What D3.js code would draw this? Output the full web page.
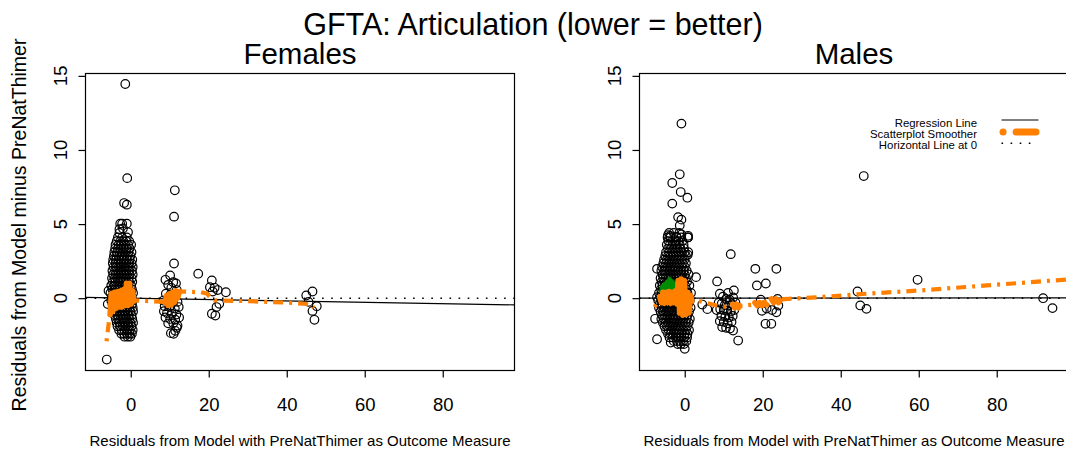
<!DOCTYPE html>
<html>
<head>
<meta charset="utf-8">
<script src="https://cdn.jsdelivr.net/npm/d3@7"></script>
<style>
  html, body { margin: 0; padding: 0; background: #fff; }
  svg { display: block; }
  text { font-family: "Liberation Sans", Arial, Helvetica, sans-serif; fill: #000; }
</style>
</head>
<body>
<svg id="chart" width="1066" height="451"></svg>
<script>
// ---------------- data ----------------
const mainTitle = "GFTA: Articulation (lower = better)";
const panelTitles = ["Females", "Males"];
const xLabel = "Residuals from Model with PreNatThimer as Outcome Measure";
const yLabel = "Residuals from Model minus PreNatThimer";
const xTicks = [0, 20, 40, 60, 80];
const yTicks = [0, 5, 10, 15];
const legendLabels = ["Regression Line", "Scatterplot Smoother", "Horizontal Line at 0"];

// Females: dense main group, one row of x values per y level
const femaleRowY = [4.4, 4.1, 3.85, 3.6, 3.35, 3.1, 2.85, 2.6, 2.35, 2.1, 1.85, 1.6, 1.35, 1.1, 0.85,
  0.6, 0.35, 0.1, -0.15, -0.4, -0.65, -0.9, -1.15, -1.4, -1.65, -1.9, -2.15, -2.4, -2.6];
const femaleRowX = [
  [-2.9],
  [-3.3, -2.2, -1.0],
  [-3.6, -2.7, -1.9, -1.2, -0.4],
  [-3.9, -3.1, -2.4, -1.5, -0.7, 0.1],
  [-4.0, -3.3, -2.6, -1.8, -1.1, -0.3],
  [-4.2, -3.5, -2.8, -2.1, -1.4, -0.6, 0.2],
  [-4.3, -3.7, -3.0, -2.3, -1.6, -0.9, -0.1],
  [-4.5, -3.8, -3.1, -2.4, -1.7, -1.0, -0.3, 0.4],
  [-4.6, -3.9, -3.3, -2.6, -1.9, -1.2, -0.5, 0.2],
  [-4.4, -3.7, -3.0, -2.3, -1.6, -0.9, -0.2, 0.5],
  [-4.7, -4.0, -3.3, -2.6, -1.9, -1.2, -0.5, 0.3],
  [-4.5, -3.8, -3.1, -2.4, -1.7, -1.0, -0.3, 0.5],
  [-4.8, -4.1, -3.4, -2.7, -2.0, -1.3, -0.6, 0.2],
  [-4.6, -3.9, -3.2, -2.5, -1.8, -1.1, -0.4, 0.4],
  [-5.0, -4.2, -3.5, -2.8, -2.1, -1.4, -0.7, 0.1],
  [-4.7, -4.0, -3.3, -2.6, -1.9, -1.2, -0.5, 0.3],
  [-5.2, -4.4, -3.6, -2.9, -2.2, -1.5, -0.8, 0.0, 0.6],
  [-4.8, -4.1, -3.4, -2.7, -2.0, -1.3, -0.6, 0.2],
  [-5.0, -4.3, -3.6, -2.9, -2.2, -1.5, -0.8, -0.1, 0.5],
  [-4.7, -4.0, -3.3, -2.6, -1.9, -1.2, -0.5, 0.3],
  [-4.5, -3.8, -3.1, -2.4, -1.7, -1.0, -0.3, 0.5],
  [-4.3, -3.6, -2.9, -2.2, -1.5, -0.8, -0.1, 0.6],
  [-4.1, -3.4, -2.7, -2.0, -1.3, -0.6, 0.2],
  [-3.8, -3.2, -2.5, -1.8, -1.1, -0.4, 0.4],
  [-3.6, -2.9, -2.2, -1.5, -0.8, -0.1, 0.6],
  [-3.4, -2.7, -2.0, -1.3, -0.6, 0.2],
  [-3.0, -2.3, -1.6, -0.9, -0.2, 0.5],
  [-2.4, -1.7, -1.0, -0.3, 0.3],
  [-1.6, -0.8, -0.1]
];
// Females: remaining points
const femaleOtherX = [-1.4, -0.9, -1.7, -1.0, -2.7, -2.2, -1.0, -2.9, -2.0, -0.7, -6.15, -5.7, -5.9,
  11.3, 11.1, 11.1, 10.1, 8.9, 10.9, 11.6, 9.6, 10.4, 11.8, 9.0, 10.2, 11.2, 8.4, 9.6, 10.8, 12.0, 8.7,
  9.9, 11.3, 12.3, 8.5, 9.3, 10.5, 11.7, 8.9, 10.1, 11.4, 12.4, 9.6, 10.9, 12.0, 11.8, 11.4, 10.3, 11.0,
  17.3, 20.8, 20.3, 21.5, 22.3, 24.4, 21.0, 22.7, 22.0, 20.8, 21.7,
  45.0, 46.6, 47.7, 46.6, 47.1, 45.6];
const femaleOtherY = [14.45, 8.1, 6.42, 6.31, 5.03, 5.03, 5.03, 4.65, 4.7, 4.45, -4.14, 0.5, -0.4,
  7.28, 5.5, 2.34, 1.53, 1.24, 1.08, 1.0, 0.9, 0.7, 0.55, 0.3, 0.25, 0.1, -0.16, -0.2, -0.3, -0.25, -0.55,
  -0.6, -0.7, -0.6, -0.88, -1.0, -1.05, -1.1, -1.3, -1.4, -1.45, -1.3, -1.7, -1.7, -1.85, -2.0, -2.2, -2.36, -2.4,
  1.65, 1.2, 0.74, 0.7, 0.55, 0.4, 0.45, -0.38, -0.6, -1.05, -1.17,
  0.18, 0.45, -0.54, -0.86, -1.46, -0.25];
const femaleFit = [0.0, -0.0046];          // intercept, slope
const femaleSmoothX = [-6.2, -5.6, -5.0, -4.0, -2.0, 0.0, 1.0, 5.0, 8.5, 10.0, 12.0, 13.0, 18.0, 19.6,
  20.5, 21.5, 30, 40, 46, 47];
const femaleSmoothY = [-2.9, -1.6, -0.6, 0.0, 0.1, 0.0, -0.15, -0.2, -0.25, -0.1, 0.3, 0.45, 0.4, 0.3,
  0.0, -0.15, -0.2, -0.3, -0.4, -0.65];
// smoother doubling back on itself where x values are crowded
const femaleCoreX = [
  [-5.3, -5.0, -4.6, -4.2, -3.8, -3.4, -3.0, -2.6, -2.2, -1.8, -1.4, -1.1, -0.7, -0.3, 0.1, 0.5, 0.8],
  [8.8, 9.2, 9.6, 10.0, 10.4, 10.8, 11.2, 11.6, 12.0, 12.5]
];
const femaleCoreY = [
  [-1.1, 0.3, -0.9, 0.4, -0.7, 0.45, -0.6, 0.5, -0.6, 0.6, -0.5, 1.0, -0.5, 1.0, -0.4, 0.5, -0.2],
  [-0.3, 0.2, -0.5, 0.3, -0.45, 0.4, -0.3, 0.5, 0.0, 0.45]
];

// Males: dense main group
const maleRowY = [4.4, 4.1, 3.85, 3.6, 3.35, 3.1, 2.85, 2.6, 2.35, 2.1, 1.85, 1.6, 1.35, 1.1, 0.85, 0.6,
  0.35, 0.1, -0.15, -0.4, -0.65, -0.9, -1.15, -1.4, -1.65, -1.9, -2.15, -2.4, -2.65, -2.9, -3.1];
const maleRowX = [
  [-4.0, -2.8, -1.4],
  [-4.4, -3.7, -2.1, -0.9, 0.8],
  [-4.2, -3.2, -2.4, -1.6, -0.6],
  [-4.6, -3.8, -3.0, -2.2, -1.3, -0.3],
  [-4.3, -3.5, -2.7, -1.9, -1.1, -0.2],
  [-4.8, -4.0, -3.2, -2.4, -1.6, -0.8, 0.0, 0.9],
  [-5.0, -4.3, -3.6, -2.9, -2.1, -1.3, -0.5, 0.3],
  [-5.3, -4.6, -3.9, -3.2, -2.5, -1.7, -0.9, -0.1],
  [-5.5, -4.8, -4.1, -3.4, -2.7, -2.0, -1.3, -0.5, 0.3],
  [-5.8, -5.1, -4.4, -3.7, -3.0, -2.3, -1.6, -0.8, 0.0],
  [-6.0, -5.3, -4.6, -3.9, -3.2, -2.5, -1.8, -1.1, -0.3, 0.5],
  [-5.7, -5.0, -4.3, -3.6, -2.9, -2.2, -1.5, -0.8, 0.0, 1.0],
  [-6.2, -5.5, -4.8, -4.1, -3.4, -2.7, -2.0, -1.3, -0.5, 0.3],
  [-5.9, -5.2, -4.5, -3.8, -3.1, -2.4, -1.7, -1.0, -0.2, 0.6],
  [-6.4, -5.7, -5.0, -4.3, -3.6, -2.9, -2.2, -1.5, -0.7, 0.1, 1.2],
  [-6.1, -5.4, -4.7, -4.0, -3.3, -2.6, -1.9, -1.2, -0.4, 0.4],
  [-6.6, -5.9, -5.2, -4.5, -3.8, -3.1, -2.4, -1.7, -1.0, -0.2, 0.7, 1.6],
  [-6.3, -5.6, -4.9, -4.2, -3.5, -2.8, -2.1, -1.4, -0.6, 0.2, 1.0],
  [-6.8, -6.0, -5.3, -4.6, -3.9, -3.2, -2.5, -1.8, -1.1, -0.3, 0.5, 1.3],
  [-6.4, -5.7, -5.0, -4.3, -3.6, -2.9, -2.2, -1.5, -0.7, 0.1, 0.9],
  [-6.6, -5.9, -5.2, -4.5, -3.8, -3.1, -2.4, -1.7, -1.0, -0.2, 0.6, 1.5],
  [-6.2, -5.5, -4.8, -4.1, -3.4, -2.7, -2.0, -1.3, -0.5, 0.3, 1.1],
  [-5.8, -5.1, -4.4, -3.7, -3.0, -2.3, -1.6, -0.9, -0.1, 0.7],
  [-6.0, -5.3, -4.6, -3.9, -3.2, -2.5, -1.8, -1.1, -0.3, 0.5, 1.3],
  [-5.6, -4.9, -4.2, -3.5, -2.8, -2.1, -1.4, -0.6, 0.2, 1.0],
  [-5.2, -4.5, -3.8, -3.1, -2.4, -1.7, -1.0, -0.2, 0.6],
  [-4.8, -4.1, -3.4, -2.7, -2.0, -1.3, -0.5, 0.3, 1.1],
  [-4.3, -3.6, -2.9, -2.2, -1.5, -0.8, 0.0, 0.7],
  [-3.9, -3.1, -2.3, -1.6, -0.9, -0.1, 0.6],
  [-2.8, -2.0, -1.2, -0.4, 0.4],
  [-1.8, -1.0, -0.2]
];
const maleOtherX = [-0.85, 45.9, -1.28, -3.2, -1.03, 0.68, -3.2, -1.7, -0.85, -1.28, 0.85, 0.77, -7.1,
  2.9, -7.1, -7.6, -7.1, -3.6, 0.0, 4.5, 5.8, -4.3, -3.7, -2.1, -0.85, 0.85,
  8.3, 11.8, 12.6, 11.1, 9.0, 9.8, 10.6, 11.5, 12.4, 8.7, 9.5, 10.3, 11.2, 12.1, 13.0, 9.1, 10.0, 10.9,
  11.8, 12.7, 9.4, 10.4, 11.3, 12.3, 9.0, 10.0, 11.0, 12.0, 9.6, 10.6, 11.6, 12.4, 13.7, 8.2,
  18.1, 23.5, 18.5, 20.8, 23.8, 19.5, 21.0, 23.5, 19.8, 22.4, 20.7, 22.2, 24.0,
  44.3, 45.0, 46.6, 59.7, 91.9, 94.3];
const maleOtherY = [11.78, 8.24, 8.36, 7.77, 7.16, 6.78, 6.38, 5.47, 5.30, 4.91, 4.21, 2.93, 1.98,
  1.42, 0.07, -1.39, -2.77, -2.99, -3.42, -0.43, -0.74, 4.25, 4.2, 4.15, 4.3, 4.1,
  1.13, 2.97, 0.52, 0.36, 0.3, 0.1, -0.05, -0.1, 0.05, -0.3, -0.35, -0.45, -0.5, -0.4, -0.3, -0.75, -0.8,
  -0.85, -0.9, -0.8, -1.2, -1.25, -1.3, -1.2, -1.55, -1.6, -1.7, -1.6, -1.95, -2.0, -2.05, -2.18, -2.86, -0.8,
  1.98, 1.98, 0.86, 0.99, -0.05, -0.1, -0.7, -0.95, -0.85, -0.8, -1.73, -1.73, -0.5,
  0.45, -0.49, -0.72, 1.24, 0.0, -0.67];
const maleFit = [0.0, 0.0002];
const maleSmoothX = [-7.7, -7.0, -6.4, -3.0, 0.0, 1.7, 4.7, 9.0, 12.0, 14.0, 18.4, 20.0, 23.1, 34.6,
  46.6, 60.3, 77.4, 98.4];
const maleSmoothY = [-0.6, -0.2, 0.0, 0.0, -0.1, -0.04, -0.27, -0.55, -0.6, -0.55, -0.4, -0.3, -0.1,
  0.07, 0.3, 0.52, 0.86, 1.27];
const maleCoreX = [
  [-6.4, -6.0, -5.6, -5.2, -4.8, -4.4, -4.0, -3.6, -3.2, -2.8, -2.4, -2.0, -1.7, -1.3, -0.9, -0.5, -0.1,
    0.3, 0.7, 1.1, 1.5, 1.8],
  [12.3, 12.8, 13.3, 13.8, 14.1],
  [18.0, 18.6, 19.2, 19.8, 20.4, 21.0],
  [22.2, 22.8, 23.4, 24.0, 24.4]
];
const maleCoreY = [
  [0.1, -0.3, 0.4, -0.35, 0.4, -0.3, 0.45, -0.35, 0.4, -0.3, 0.5, -0.4, 1.2, -1.0, 1.3, -1.15, 1.2,
    -1.1, 0.4, -1.0, 0.2, -0.2],
  [-0.4, -0.65, -0.4, -0.65, -0.5],
  [-0.3, -0.5, -0.3, -0.5, -0.3, -0.45],
  [-0.05, -0.3, -0.05, -0.3, -0.15]
];
const maleGreenX = [-6.4, -6.0, -5.7, -5.4, -5.1, -4.8, -4.5, -4.2, -3.9, -3.6, -3.3, -3.0, -2.7, -2.4, -2.1];
const maleGreenY = [0.55, 0.45, 0.8, 0.45, 0.95, 0.45, 1.1, 0.45, 1.3, 0.5, 1.15, 0.5, 1.0, 0.55, 0.8];

// ---------------- layout ----------------
const W = 1066, H = 451;
const boxW = 429, boxTop = 73.5, boxBottom = 370.5;
const xDomain = [-11.6, 98.4];
const yDomain = [-4.88, 15.16];
const orange = "#FF7F00";
const green = "#008B00";

const svg = d3.select("#chart");

function rowsToPoints(rowY, rowX) {
  const pts = [];
  rowY.forEach((yv, i) => rowX[i].forEach(xv => pts.push([xv, yv])));
  return pts;
}

function drawPanel(p, idx) {
  const x = d3.scaleLinear().domain(xDomain).range([p.left, p.left + boxW]);
  const y = d3.scaleLinear().domain(yDomain).range([boxBottom, boxTop]);
  const line = d3.line().x(d => x(d[0])).y(d => y(d[1]));

  const clipId = "plotclip" + idx;
  svg.append("clipPath").attr("id", clipId)
    .append("rect").attr("x", p.left).attr("y", boxTop)
    .attr("width", boxW).attr("height", boxBottom - boxTop);

  const g = svg.append("g");
  const plot = g.append("g").attr("clip-path", `url(#${clipId})`);

  // points
  const pts = rowsToPoints(p.rowY, p.rowX).concat(d3.zip(p.otherX, p.otherY));
  plot.append("g").selectAll("circle").data(pts).join("circle")
    .attr("cx", d => x(d[0])).attr("cy", d => y(d[1])).attr("r", 4.3)
    .attr("fill", "none").attr("stroke", "#000").attr("stroke-width", 1.2);

  // regression line
  plot.append("path")
    .attr("d", line(xDomain.map(v => [v, p.fit[0] + p.fit[1] * v])))
    .attr("fill", "none").attr("stroke", "#000").attr("stroke-width", 1.2);

  // horizontal line at 0
  plot.append("path")
    .attr("d", line(xDomain.map(v => [v, 0])))
    .attr("fill", "none").attr("stroke", "#000").attr("stroke-width", 1.4)
    .attr("stroke-dasharray", "1.6 7.5");

  // green segment
  if (p.greenX) {
    plot.append("path").attr("d", line(d3.zip(p.greenX, p.greenY)))
      .attr("fill", "none").attr("stroke", green).attr("stroke-width", 4.5)
      .attr("stroke-linejoin", "round");
  }

  // smoother
  plot.append("path").attr("d", line(d3.zip(p.smoothX, p.smoothY)))
    .attr("fill", "none").attr("stroke", orange).attr("stroke-width", 4.2)
    .attr("stroke-dasharray", "3 6 10 6");
  p.coreX.forEach((cx, i) => {
    plot.append("path").attr("d", line(d3.zip(cx, p.coreY[i])))
      .attr("fill", "none").attr("stroke", orange).attr("stroke-width", 5.5)
      .attr("stroke-linejoin", "round").attr("stroke-linecap", "round");
  });

  // box
  g.append("rect").attr("x", p.left).attr("y", boxTop)
    .attr("width", boxW).attr("height", boxBottom - boxTop)
    .attr("fill", "none").attr("stroke", "#000").attr("stroke-width", 1.2);

  // x axis
  const xa = g.append("g").attr("transform", `translate(0,${boxBottom})`)
    .call(d3.axisBottom(x).tickValues(xTicks).tickSize(7).tickPadding(20.5).tickFormat(d3.format("d")));
  xa.select(".domain").remove();
  xa.selectAll("line").attr("stroke", "#000").attr("stroke-width", 1.2);
  xa.selectAll("text").attr("font-size", 18.5).attr("font-family", null);

  // y axis (tick labels parallel to the axis)
  const ya = g.append("g").attr("transform", `translate(${p.left},0)`)
    .call(d3.axisLeft(y).tickValues(yTicks).tickSize(7).tickFormat(""));
  ya.select(".domain").remove();
  ya.selectAll("line").attr("stroke", "#000").attr("stroke-width", 1.2);
  g.append("g").selectAll("text").data(yTicks).join("text")
    .attr("transform", d => `translate(${p.left - 19},${y(d)}) rotate(-90)`)
    .attr("text-anchor", "middle").attr("font-size", 18.5).text(d => d);

  // titles
  g.append("text").attr("x", p.left + boxW / 2).attr("y", 64)
    .attr("text-anchor", "middle").attr("font-size", 29.5).text(p.title);
  g.append("text").attr("x", p.left + boxW / 2).attr("y", 446)
    .attr("text-anchor", "middle").attr("font-size", 15).text(xLabel);

  return { x, y };
}

const panels = [
  { title: panelTitles[0], left: 85.5, rowY: femaleRowY, rowX: femaleRowX, otherX: femaleOtherX,
    otherY: femaleOtherY, fit: femaleFit, smoothX: femaleSmoothX, smoothY: femaleSmoothY,
    coreX: femaleCoreX, coreY: femaleCoreY },
  { title: panelTitles[1], left: 639.5, rowY: maleRowY, rowX: maleRowX, otherX: maleOtherX,
    otherY: maleOtherY, fit: maleFit, smoothX: maleSmoothX, smoothY: maleSmoothY,
    coreX: maleCoreX, coreY: maleCoreY, greenX: maleGreenX, greenY: maleGreenY }
];
panels.forEach(drawPanel);

// overall title and y label
svg.append("text").attr("x", W / 2).attr("y", 35).attr("text-anchor", "middle")
  .attr("font-size", 30.5).text(mainTitle);
svg.append("text")
  .attr("transform", `translate(26,${(boxTop + boxBottom) / 2 + 3}) rotate(-90)`)
  .attr("text-anchor", "middle").attr("font-size", 19.5).text(yLabel);

// legend (Males panel)
const legend = svg.append("g");
const legBase = [126.5, 138, 149.3];
legend.selectAll("text").data(legendLabels).join("text")
  .attr("x", 977).attr("y", (d, i) => legBase[i])
  .attr("text-anchor", "end").attr("font-size", 11.4).text(d => d);
legend.append("line").attr("x1", 1001.5).attr("x2", 1038.5)
  .attr("y1", legBase[0] - 6.5).attr("y2", legBase[0] - 6.5)
  .attr("stroke", "#000").attr("stroke-width", 1.2);
legend.append("line").attr("x1", 1003).attr("x2", 1036)
  .attr("y1", legBase[1] - 6).attr("y2", legBase[1] - 6)
  .attr("stroke", orange).attr("stroke-width", 7).attr("stroke-linecap", "round")
  .attr("stroke-dasharray", "0.1 13 23");
legend.append("line").attr("x1", 1001.5).attr("x2", 1035)
  .attr("y1", legBase[2] - 6).attr("y2", legBase[2] - 6)
  .attr("stroke", "#000").attr("stroke-width", 1.4).attr("stroke-dasharray", "1.6 7.5");
</script>
</body>
</html>
